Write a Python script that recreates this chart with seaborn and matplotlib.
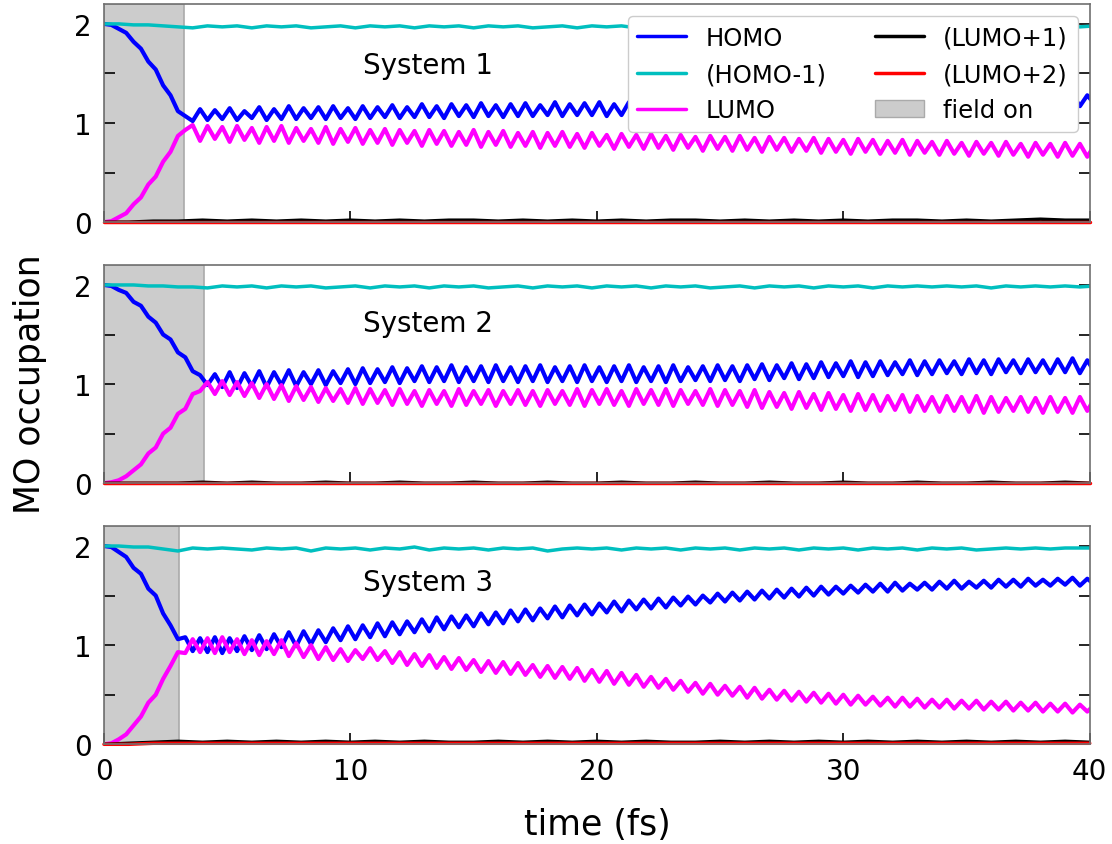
import numpy as np
import matplotlib
matplotlib.use("Agg")
import matplotlib.pyplot as plt
from matplotlib.patches import Patch
from matplotlib.lines import Line2D
from matplotlib.ticker import MultipleLocator
import seaborn as sns

# ---------------- time grids (fs) ----------------
t_fast = np.round(np.arange(135) * 0.3, 1)     # 0.0 ... 40.2
t_slow = np.round(np.arange(68) * 0.6, 1)      # 0.0 ... 40.2
t_coarse = np.arange(41, dtype=float)          # 0 ... 40

# ---------------- System 1 ----------------
homo_1 = [2.00, 1.99, 1.95, 1.91, 1.82, 1.75, 1.62, 1.54, 1.38, 1.28, 1.12, 1.07,
          1.02, 1.14, 1.03, 1.13, 1.04, 1.15, 1.03, 1.12, 1.05, 1.16,
          1.03, 1.14, 1.04, 1.17, 1.04, 1.15, 1.05, 1.16, 1.04, 1.17,
          1.05, 1.15, 1.04, 1.17, 1.05, 1.16, 1.06, 1.18, 1.05, 1.16,
          1.06, 1.19, 1.06, 1.17, 1.05, 1.19, 1.07, 1.18, 1.06, 1.20,
          1.07, 1.18, 1.06, 1.19, 1.07, 1.20, 1.07, 1.18, 1.08, 1.21,
          1.07, 1.19, 1.08, 1.20, 1.08, 1.21, 1.07, 1.19, 1.08, 1.21,
          1.09, 1.20, 1.08, 1.22, 1.09, 1.21, 1.10, 1.20, 1.09, 1.22,
          1.10, 1.21, 1.09, 1.23, 1.10, 1.22, 1.11, 1.21, 1.10, 1.23,
          1.11, 1.24, 1.12, 1.22, 1.11, 1.24, 1.12, 1.25, 1.13, 1.23,
          1.12, 1.25, 1.13, 1.24, 1.14, 1.26, 1.13, 1.25, 1.14, 1.27,
          1.15, 1.25, 1.14, 1.27, 1.15, 1.26, 1.16, 1.28, 1.15, 1.27,
          1.16, 1.28, 1.17, 1.27, 1.16, 1.29, 1.17, 1.28, 1.18, 1.29,
          1.17, 1.28, 1.19]
lumo_1 = [0.00, 0.01, 0.05, 0.09, 0.18, 0.25, 0.38, 0.46, 0.61, 0.71, 0.87, 0.93,
          0.98, 0.82, 0.97, 0.84, 0.96, 0.81, 0.97, 0.83, 0.95, 0.80,
          0.96, 0.82, 0.97, 0.80, 0.95, 0.82, 0.94, 0.80, 0.96, 0.79,
          0.94, 0.81, 0.95, 0.79, 0.93, 0.80, 0.94, 0.78, 0.93, 0.80,
          0.92, 0.77, 0.93, 0.79, 0.92, 0.77, 0.91, 0.78, 0.93, 0.76,
          0.91, 0.78, 0.92, 0.76, 0.90, 0.77, 0.91, 0.75, 0.90, 0.77,
          0.91, 0.76, 0.89, 0.75, 0.90, 0.77, 0.88, 0.74, 0.89, 0.76,
          0.88, 0.74, 0.89, 0.75, 0.87, 0.73, 0.88, 0.75, 0.86, 0.72,
          0.87, 0.74, 0.86, 0.72, 0.87, 0.73, 0.85, 0.71, 0.86, 0.73,
          0.85, 0.71, 0.84, 0.72, 0.85, 0.70, 0.84, 0.71, 0.83, 0.69,
          0.84, 0.71, 0.83, 0.69, 0.82, 0.70, 0.83, 0.68, 0.82, 0.70,
          0.81, 0.68, 0.82, 0.69, 0.80, 0.67, 0.81, 0.69, 0.80, 0.67,
          0.81, 0.68, 0.79, 0.66, 0.80, 0.68, 0.79, 0.66, 0.80, 0.67,
          0.79, 0.66, 0.78]
homo_m1_1 = [2.00, 2.00, 1.99, 1.99, 1.98, 1.97,
             1.96, 1.98, 1.97, 1.98, 1.96, 1.98, 1.97, 1.98, 1.96, 1.97,
             1.98, 1.96, 1.98, 1.97, 1.98, 1.96, 1.98, 1.97, 1.98, 1.96,
             1.98, 1.97, 1.98, 1.96, 1.97, 1.98, 1.96, 1.98, 1.97, 1.98,
             1.96, 1.98, 1.97, 1.98, 1.96, 1.98, 1.97, 1.98, 1.96, 1.97,
             1.98, 1.96, 1.98, 1.97, 1.98, 1.96, 1.98, 1.97, 1.98, 1.96,
             1.98, 1.97, 1.98, 1.96, 1.98, 1.97, 1.98, 1.97, 1.96, 1.98,
             1.97, 1.98]
lumo_p1_1 = [0.00, 0.00, 0.01, 0.01, 0.02, 0.01, 0.02, 0.01, 0.02, 0.01,
             0.02, 0.01, 0.02, 0.01, 0.02, 0.02, 0.01, 0.02, 0.01, 0.02,
             0.01, 0.02, 0.01, 0.02, 0.02, 0.01, 0.02, 0.01, 0.02, 0.01,
             0.02, 0.01, 0.02, 0.02, 0.01, 0.02, 0.01, 0.02, 0.03, 0.02,
             0.02]
lumo_p2_1 = [0.00, 0.00, 0.00, 0.00, 0.00, 0.00, 0.00, 0.00, 0.00, 0.00,
             0.00, 0.00, 0.00, 0.00, 0.00, 0.00, 0.00, 0.00, 0.00, 0.00,
             0.00, 0.00, 0.00, 0.00, 0.00, 0.00, 0.00, 0.00, 0.00, 0.00,
             0.00, 0.00, 0.00, 0.00, 0.00, 0.00, 0.00, 0.00, 0.00, 0.00,
             0.00]

# ---------------- System 2 ----------------
homo_2 = [2.00, 1.99, 1.95, 1.92, 1.83, 1.79, 1.68, 1.62, 1.50, 1.45, 1.32, 1.27, 1.13, 1.09, 0.99,
          1.10, 0.97, 1.12, 0.96, 1.11, 0.98, 1.13, 0.97, 1.12, 0.99,
          1.14, 0.98, 1.12, 1.00, 1.14, 0.99, 1.13, 1.01, 1.15, 1.00,
          1.16, 1.01, 1.15, 1.02, 1.17, 1.01, 1.16, 1.03, 1.18, 1.02,
          1.17, 1.03, 1.19, 1.02, 1.17, 1.03, 1.18, 1.02, 1.19, 1.03,
          1.17, 1.02, 1.18, 1.03, 1.19, 1.02, 1.17, 1.03, 1.18, 1.02,
          1.19, 1.03, 1.17, 1.02, 1.18, 1.03, 1.19, 1.02, 1.17, 1.03,
          1.18, 1.02, 1.19, 1.03, 1.17, 1.04, 1.18, 1.03, 1.19, 1.04,
          1.18, 1.03, 1.19, 1.05, 1.20, 1.04, 1.19, 1.06, 1.21, 1.05,
          1.20, 1.06, 1.22, 1.07, 1.21, 1.08, 1.23, 1.07, 1.22, 1.08,
          1.23, 1.09, 1.22, 1.10, 1.24, 1.09, 1.23, 1.10, 1.24, 1.11,
          1.23, 1.10, 1.25, 1.11, 1.24, 1.10, 1.25, 1.12, 1.24, 1.11,
          1.25, 1.12, 1.24, 1.11, 1.25, 1.12, 1.26, 1.11, 1.24, 1.12]
lumo_2 = [0.00, 0.01, 0.03, 0.07, 0.13, 0.19, 0.30, 0.36, 0.50, 0.56, 0.70, 0.75, 0.90, 0.93, 1.02,
          0.90, 1.03, 0.89, 1.02, 0.88, 1.01, 0.86, 1.00, 0.85, 0.99,
          0.83, 0.98, 0.84, 0.97, 0.82, 0.96, 0.83, 0.95, 0.81, 0.96,
          0.80, 0.95, 0.81, 0.94, 0.79, 0.95, 0.80, 0.93, 0.78, 0.94,
          0.80, 0.93, 0.78, 0.95, 0.79, 0.93, 0.80, 0.94, 0.78, 0.93,
          0.80, 0.94, 0.79, 0.93, 0.78, 0.94, 0.80, 0.93, 0.79, 0.95,
          0.78, 0.94, 0.80, 0.95, 0.79, 0.93, 0.78, 0.95, 0.80, 0.94,
          0.79, 0.95, 0.78, 0.94, 0.80, 0.93, 0.79, 0.95, 0.78, 0.94,
          0.79, 0.93, 0.77, 0.94, 0.76, 0.92, 0.77, 0.91, 0.75, 0.92,
          0.76, 0.90, 0.74, 0.91, 0.75, 0.89, 0.73, 0.90, 0.74, 0.89,
          0.73, 0.88, 0.74, 0.89, 0.72, 0.88, 0.73, 0.87, 0.72, 0.88,
          0.73, 0.87, 0.72, 0.88, 0.71, 0.87, 0.72, 0.86, 0.73, 0.87,
          0.72, 0.86, 0.71, 0.87, 0.72, 0.86, 0.71, 0.87, 0.73, 0.86]
homo_m1_2 = [2.00, 2.00, 2.00, 1.99, 1.99, 1.98, 1.98,
             1.97, 1.99, 1.98, 1.99, 1.97, 1.99, 1.98, 1.99, 1.97, 1.98,
             1.99, 1.97, 1.99, 1.98, 1.99, 1.97, 1.99, 1.98, 1.99, 1.97,
             1.98, 1.99, 1.97, 1.99, 1.98, 1.99, 1.97, 1.99, 1.98, 1.99,
             1.97, 1.99, 1.98, 1.99, 1.97, 1.98, 1.99, 1.97, 1.99, 1.98,
             1.99, 1.97, 1.99, 1.98, 1.99, 1.97, 1.99, 1.98, 1.99, 1.98,
             1.99, 1.98, 1.99, 1.97, 1.99, 1.98, 1.99, 1.98, 1.99, 1.98,
             1.99]
lumo_p1_2 = [0.00, 0.00, 0.00, 0.00, 0.01, 0.00, 0.01, 0.00, 0.00, 0.01,
             0.00, 0.00, 0.01, 0.00, 0.00, 0.01, 0.00, 0.00, 0.01, 0.00,
             0.00, 0.01, 0.00, 0.00, 0.01, 0.00, 0.00, 0.01, 0.00, 0.00,
             0.01, 0.00, 0.00, 0.01, 0.00, 0.00, 0.01, 0.00, 0.00, 0.01,
             0.00]
lumo_p2_2 = [0.00, 0.00, 0.00, 0.00, 0.00, 0.00, 0.00, 0.00, 0.00, 0.00,
             0.00, 0.00, 0.00, 0.00, 0.00, 0.00, 0.00, 0.00, 0.00, 0.00,
             0.00, 0.00, 0.00, 0.00, 0.00, 0.00, 0.00, 0.00, 0.00, 0.00,
             0.00, 0.00, 0.00, 0.00, 0.00, 0.00, 0.00, 0.00, 0.00, 0.00,
             0.00]

# ---------------- System 3 ----------------
homo_3 = [2.00, 1.99, 1.94, 1.89, 1.78, 1.72, 1.57, 1.50, 1.32, 1.20, 1.06, 1.08,
          0.94, 1.07, 0.93, 1.08, 0.92, 1.07, 0.94, 1.09, 0.95, 1.10,
          0.96, 1.11, 0.98, 1.13, 0.99, 1.14, 1.01, 1.15, 1.03, 1.17,
          1.05, 1.19, 1.06, 1.20, 1.08, 1.22, 1.09, 1.23, 1.11, 1.24,
          1.13, 1.26, 1.14, 1.28, 1.16, 1.29, 1.18, 1.30, 1.19, 1.32,
          1.21, 1.33, 1.22, 1.35, 1.24, 1.36, 1.25, 1.37, 1.27, 1.39,
          1.28, 1.40, 1.30, 1.41, 1.31, 1.42, 1.33, 1.44, 1.34, 1.45,
          1.36, 1.46, 1.37, 1.47, 1.38, 1.48, 1.40, 1.49, 1.41, 1.50,
          1.43, 1.52, 1.44, 1.53, 1.45, 1.54, 1.46, 1.55, 1.47, 1.56,
          1.48, 1.57, 1.49, 1.58, 1.50, 1.59, 1.51, 1.59, 1.52, 1.60,
          1.53, 1.61, 1.54, 1.62, 1.54, 1.63, 1.55, 1.62, 1.56, 1.63,
          1.56, 1.64, 1.57, 1.65, 1.57, 1.64, 1.58, 1.65, 1.58, 1.66,
          1.59, 1.66, 1.59, 1.67, 1.60, 1.66, 1.60, 1.67, 1.61, 1.68,
          1.60, 1.67, 1.61]
lumo_3 = [0.00, 0.01, 0.05, 0.10, 0.19, 0.28, 0.42, 0.50, 0.66, 0.79, 0.93, 0.92,
          1.06, 0.93, 1.07, 0.92, 1.08, 0.93, 1.06, 0.91, 1.05, 0.90,
          1.04, 0.91, 1.05, 0.89, 1.02, 0.88, 1.00, 0.86, 0.98, 0.85,
          0.96, 0.84, 0.95, 0.86, 0.97, 0.85, 0.94, 0.82, 0.93, 0.80,
          0.91, 0.79, 0.90, 0.77, 0.88, 0.76, 0.87, 0.75, 0.85, 0.73,
          0.84, 0.72, 0.83, 0.71, 0.82, 0.70, 0.80, 0.68, 0.79, 0.67,
          0.78, 0.66, 0.77, 0.64, 0.75, 0.63, 0.74, 0.61, 0.72, 0.60,
          0.70, 0.58, 0.68, 0.57, 0.66, 0.55, 0.64, 0.53, 0.62, 0.51,
          0.61, 0.50, 0.59, 0.49, 0.58, 0.47, 0.57, 0.46, 0.55, 0.45,
          0.54, 0.44, 0.53, 0.43, 0.52, 0.42, 0.51, 0.41, 0.50, 0.40,
          0.49, 0.40, 0.48, 0.39, 0.47, 0.38, 0.47, 0.38, 0.46, 0.37,
          0.45, 0.37, 0.45, 0.36, 0.44, 0.36, 0.44, 0.35, 0.43, 0.35,
          0.43, 0.34, 0.42, 0.34, 0.42, 0.33, 0.41, 0.33, 0.41, 0.32,
          0.40, 0.33, 0.40]
homo_m1_3 = [2.00, 2.00, 1.99, 1.99, 1.97, 1.95,
             1.98, 1.97, 1.98, 1.97, 1.96, 1.98, 1.97, 1.98, 1.95, 1.98,
             1.97, 1.98, 1.96, 1.98, 1.97, 1.99, 1.96, 1.98, 1.97, 1.98,
             1.96, 1.98, 1.97, 1.98, 1.95, 1.97, 1.98, 1.97, 1.98, 1.96,
             1.98, 1.97, 1.98, 1.96, 1.98, 1.97, 1.98, 1.96, 1.98, 1.97,
             1.98, 1.96, 1.98, 1.97, 1.98, 1.96, 1.98, 1.97, 1.98, 1.96,
             1.98, 1.97, 1.98, 1.96, 1.97, 1.98, 1.97, 1.98, 1.97, 1.98,
             1.98, 1.98]
lumo_p1_3 = [0.00, 0.01, 0.02, 0.03, 0.02, 0.03, 0.02, 0.03, 0.02, 0.03,
             0.02, 0.03, 0.02, 0.03, 0.02, 0.02, 0.03, 0.02, 0.03, 0.02,
             0.03, 0.02, 0.03, 0.02, 0.02, 0.03, 0.02, 0.03, 0.02, 0.03,
             0.02, 0.03, 0.02, 0.03, 0.02, 0.03, 0.02, 0.03, 0.02, 0.03,
             0.02]
lumo_p2_3 = [0.00, 0.00, 0.01, 0.01, 0.01, 0.01, 0.01, 0.01, 0.01, 0.01,
             0.01, 0.01, 0.01, 0.01, 0.01, 0.01, 0.01, 0.01, 0.01, 0.01,
             0.01, 0.01, 0.01, 0.01, 0.01, 0.01, 0.01, 0.01, 0.01, 0.01,
             0.01, 0.01, 0.01, 0.01, 0.01, 0.01, 0.01, 0.01, 0.01, 0.01,
             0.01]

system_names = ["System 1", "System 2", "System 3"]
field_end = [3.25, 4.05, 3.05]
legend_labels = ["HOMO", "(HOMO-1)", "LUMO", "(LUMO+1)", "(LUMO+2)", "field on"]
x_ticks = [0, 10, 20, 30, 40]
y_ticks = [0, 1, 2]

panels = [
    (homo_1, homo_m1_1, lumo_1, lumo_p1_1, lumo_p2_1),
    (homo_2, homo_m1_2, lumo_2, lumo_p1_2, lumo_p2_2),
    (homo_3, homo_m1_3, lumo_3, lumo_p1_3, lumo_p2_3),
]

C_HOMO, C_HM1, C_LUMO, C_LP1, C_LP2 = "#0000ff", "#00bfbf", "#ff00ff", "#000000", "#ff0000"
SHADE_FACE, SHADE_EDGE = "#cccccc", "#aaaaaa"

sns.set_theme(style="ticks")
plt.rcParams["font.family"] = ["DejaVu Sans"]
plt.rcParams["text.color"] = "black"
plt.rcParams["axes.labelcolor"] = "black"
plt.rcParams["xtick.color"] = "black"
plt.rcParams["ytick.color"] = "black"

fig, axes = plt.subplots(3, 1, figsize=(11.12, 8.45), dpi=100, sharex=True)
fig.subplots_adjust(left=0.0935, right=0.980, top=0.994, bottom=0.118, hspace=0.197)

text_y = [1.59, 1.62, 1.64]

for i, ax in enumerate(axes):
    homo, hm1, lumo, lp1, lp2 = panels[i]
    ax.axvspan(0, field_end[i], facecolor=SHADE_FACE, edgecolor=SHADE_EDGE, lw=1.2, zorder=0)
    sns.lineplot(x=t_fast, y=homo, ax=ax, color=C_HOMO, lw=3.0, estimator=None, sort=False)
    sns.lineplot(x=t_slow, y=hm1, ax=ax, color=C_HM1, lw=2.5, estimator=None, sort=False)
    sns.lineplot(x=t_fast, y=lumo, ax=ax, color=C_LUMO, lw=3.0, estimator=None, sort=False)
    sns.lineplot(x=t_coarse, y=lp1, ax=ax, color=C_LP1, lw=2.5, estimator=None, sort=False)
    sns.lineplot(x=t_coarse, y=lp2, ax=ax, color=C_LP2, lw=2.5, estimator=None, sort=False)
    for ln in ax.lines:
        ln.set_solid_joinstyle("round")
    ax.lines[-1].set_clip_on(False)
    ax.set_xlim(0, 40)
    ax.set_ylim(0, 2.2)
    ax.set_xticks(x_ticks)
    ax.set_yticks(y_ticks)
    ax.yaxis.set_minor_locator(MultipleLocator(0.5))
    ax.tick_params(axis="y", which="both", direction="in", left=True, right=True,
                   length=8, width=1.2, color="black", labelcolor="black", labelsize=20, pad=9)
    ax.tick_params(axis="x", which="major", direction="in", bottom=True, top=False,
                   length=8, width=1.2, color="black", labelcolor="black", labelsize=20, pad=9)
    ax.tick_params(axis="x", which="minor", bottom=False, top=False)
    for sp in ax.spines.values():
        sp.set_visible(True)
        sp.set_color("#707070")
        sp.set_linewidth(1.2)
    ax.set_xlabel("")
    ax.set_ylabel("")
    ax.text(10.5, text_y[i], system_names[i], fontsize=20, color="black", ha="left", va="center")

handles = [
    Line2D([], [], color=C_HOMO, lw=2.5),
    Line2D([], [], color=C_HM1, lw=2.5),
    Line2D([], [], color=C_LUMO, lw=2.5),
    Line2D([], [], color=C_LP1, lw=2.5),
    Line2D([], [], color=C_LP2, lw=2.5),
    Patch(facecolor=SHADE_FACE, edgecolor=SHADE_EDGE),
]
leg = axes[0].legend(handles, legend_labels, ncol=2, loc="upper right", fontsize=17.5,
                     frameon=True, framealpha=1.0, edgecolor="0.8", fancybox=True)
leg.set_zorder(10)

fig.text(0.027, 0.545, "MO occupation", rotation=90, fontsize=25, color="black",
         ha="center", va="center")
fig.text(0.537, 0.024, "time (fs)", fontsize=25, color="black", ha="center", va="center")

fig.savefig("out.png", dpi=100)
